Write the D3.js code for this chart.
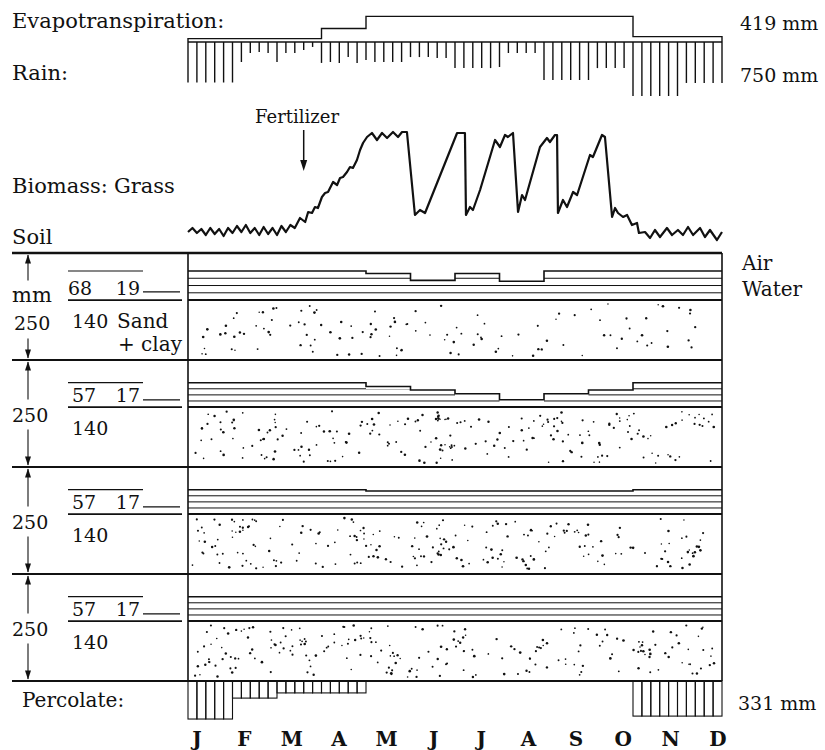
<!DOCTYPE html>
<html>
<head>
<meta charset="utf-8">
<script src="https://cdn.jsdelivr.net/npm/d3@7"></script>
<style>
  body { margin: 0; background: #fff; }
  text { font-family: "DejaVu Serif", "Liberation Serif", serif; fill: #111; }
</style>
</head>
<body>
<svg id="chart" width="825" height="750"></svg>
<script>
// ---- data -------------------------------------------------------------
// Month initials along the time axis
const months = ["J", "F", "M", "A", "M", "J", "J", "A", "S", "O", "N", "D"];

// Rain per 6-day period (mm), marks at day 0, 6, ... 360
const rain = [
  18.0, 18.0, 18.0, 18.0, 18.0, 18.0,
  8.9, 4.9, 4.4, 4.9, 8.9, 4.9, 4.9, 3.6, 2.2,
  9.3, 8.9, 9.3, 6.7, 9.3, 8.0,
  8.9, 8.9, 8.9, 8.9,
  6.7, 6.7, 6.7, 7.1, 7.1,
  11.6, 11.6, 11.6, 11.6, 11.6, 11.1,
  4.9, 4.9, 4.9, 4.9,
  16.9, 16.9, 16.9, 16.9, 16.9, 16.9,
  11.6, 11.6, 11.6, 11.6,
  24.0, 24.0, 24.0, 24.0, 24.0, 24.0,
  18.2, 18.2, 18.2, 18.2, 18.2
];
const rainTotal = 750;

// Evapotranspiration (mm per 6-day period), by month
const etMonthly = [1.5, 1.5, 1.5, 6.0, 11.4, 11.4, 11.4, 11.4, 11.4, 11.4, 2.4, 2.4];
const etTotal = 419;

// Percolation out of the profile (mm per 6-day period), 60 periods
const percolate = [
  16.9, 16.9, 16.9, 16.9, 16.9,
  7.6, 7.6, 7.6, 7.6, 7.6,
  5.3, 5.3, 5.3, 5.3, 5.3, 5.3, 5.3, 5.3, 5.3, 5.3,
  0, 0, 0, 0, 0, 0, 0, 0, 0, 0,
  0, 0, 0, 0, 0, 0, 0, 0, 0, 0,
  0, 0, 0, 0, 0, 0, 0, 0, 0, 0,
  15.6, 15.6, 15.6, 15.6, 15.6, 15.6, 15.6, 15.6, 15.6, 15.6
];
const percolateTotal = 331;

// Grass biomass (relative units) as [day, value]; cuts at the sharp drops
const biomass = [
  [0, 8], [3, 12], [6, 7], [9, 11], [12, 5], [15, 12], [18, 6], [21, 11], [24, 4],
  [27, 12], [30, 7], [33, 14], [36, 8], [39, 15], [42, 7], [45, 12], [48, 5],
  [51, 13], [54, 6], [57, 12], [60, 5], [63, 14], [66, 8], [69, 15],
  [72, 12], [75.5, 22], [79, 18], [81, 28], [83.6, 27], [85.6, 33], [87.6, 32],
  [90.3, 43], [92.4, 47], [94.4, 48], [97.8, 58], [100.5, 55], [102.5, 62],
  [104.5, 63], [107.2, 68], [109.2, 73], [111.2, 72], [113.9, 80], [116, 90],
  [118, 97], [120.7, 103], [124, 107], [127.4, 100], [130.8, 107], [134.2, 102],
  [138.2, 108], [141.6, 103], [144.3, 108], [147.6, 108],
  [153, 25], [156.4, 30], [159.8, 27], [181.4, 107], [186.7, 107],
  [187.4, 25], [190.1, 33], [192.1, 30], [196.9, 50], [207, 100], [210.3, 93],
  [213.7, 105], [215.7, 103], [219.1, 107],
  [222.5, 28], [225.2, 45], [227.2, 40], [237.3, 93], [242, 102], [244, 98],
  [247.4, 105], [248.8, 105],
  [249.4, 27], [252.8, 40], [255.5, 33], [259.6, 48], [262.3, 45], [271, 85],
  [273, 83], [279.1, 105], [281.1, 103],
  [285.9, 23], [287.9, 32], [289.9, 27], [293.3, 23], [296, 25], [299.3, 15],
  [302.7, 17], [304, 7], [308.1, 8], [311.5, 2], [314.8, 10], [318.2, 3],
  [322.9, 12], [326.3, 5], [330.3, 10], [333.7, 5], [337.1, 13], [340.5, 5],
  [345.2, 12], [348.5, 3], [351.9, 10], [356.6, 0], [360, 8]
];
const fertilizerDay = 78;

// Soil profile: four 250 mm layers (mm of solids, field capacity, wilting point)
const layerDepth = [250, 250, 250, 250];
const layerSolids = [140, 140, 140, 140];
const fieldCapacity = [68, 57, 57, 57];
const wiltingPoint = [19, 17, 17, 17];

// Soil water (mm) by month in each layer
const water1 = [68, 68, 68, 68, 62, 46, 62, 44, 68, 68, 68, 68];
const water2 = [57, 57, 57, 57, 48, 40, 31, 17, 31, 40, 57, 57];
const water3 = [57, 57, 57, 57, 54, 54, 54, 54, 54, 54, 57, 57];
const water4 = [57, 57, 57, 57, 57, 57, 57, 57, 57, 57, 57, 57];
const layerWater = [water1, water2, water3, water4];

// ---- layout & scales --------------------------------------------------
const svg = d3.select("#chart");
const ink = "#111";
const x = d3.scaleLinear().domain([0, 360]).range([188, 722]);        // day of year (30-day months)
const depthPx = d3.scaleLinear().domain([0, 20]).range([0, 45]);      // mm of water -> px
const monthX = d3.scalePoint().domain(d3.range(months.length)).range([197, 718]);
const rainBase = 42;
const soilTop = 253, soilBottom = 681;
const layerH = (soilBottom - soilTop) / layerDepth.length;
const bioY = d3.scaleLinear().domain([0, 100]).range([240, 140]);

const txt = (s, px, py, size, opts = {}) => {
  const t = svg.append("text").attr("x", px).attr("y", py)
    .attr("font-size", size).text(s);
  if (opts.anchor) t.attr("text-anchor", opts.anchor);
  if (opts.weight) t.attr("font-weight", opts.weight);
  return t;
};

// ---- evapotranspiration & rain ----------------------------------------
txt("Evapotranspiration:", 12, 28, 21);
txt("Rain:", 12, 80, 21);
txt(etTotal + " mm", 740, 30, 19);
txt(rainTotal + " mm", 740, 82, 19);

const etPts = [[0, 0]]
  .concat(etMonthly.map((v, m) => [m * 30, v]))
  .concat([[360, etMonthly[11]], [360, 0]]);
svg.append("path")
  .attr("d", d3.line().x(d => x(d[0])).y(d => rainBase - depthPx(d[1])).curve(d3.curveStepAfter)(etPts))
  .attr("fill", "none").attr("stroke", ink).attr("stroke-width", 1.4);

svg.append("line").attr("x1", x(0)).attr("x2", x(360))
  .attr("y1", rainBase).attr("y2", rainBase)
  .attr("stroke", ink).attr("stroke-width", 1.5);

svg.append("g").selectAll("line").data(rain).join("line")
  .attr("x1", (d, i) => x(i * 6)).attr("x2", (d, i) => x(i * 6))
  .attr("y1", rainBase).attr("y2", d => rainBase + depthPx(d))
  .attr("stroke", ink).attr("stroke-width", 1.4);

// ---- biomass ----------------------------------------------------------
txt("Biomass:", 12, 193, 21);
txt("Grass", 114, 193, 21);
txt("Fertilizer", 255, 123, 18);

svg.append("path")
  .attr("d", d3.line().x(d => x(d[0])).y(d => bioY(d[1]))(biomass))
  .attr("fill", "none").attr("stroke", ink).attr("stroke-width", 2.2)
  .attr("stroke-linejoin", "round");

const fx = x(fertilizerDay);
svg.append("line").attr("x1", fx).attr("x2", fx).attr("y1", 130).attr("y2", 162)
  .attr("stroke", ink).attr("stroke-width", 1.5);
svg.append("path").attr("d", `M${fx - 3.5},160 L${fx + 3.5},160 L${fx},171 Z`).attr("fill", ink);

// ---- soil profile -----------------------------------------------------
txt("Soil", 12, 244, 21);
const stipple = d3.randomLcg(0.4271);   // repeatable sand texture

const arrowHead = (cx, tipY, dir) =>
  svg.append("path")
    .attr("d", `M${cx},${tipY} L${cx - 3},${tipY - dir * 9} L${cx + 3},${tipY - dir * 9} Z`)
    .attr("fill", ink);

layerDepth.forEach((depth, k) => {
  const top = soilTop + k * layerH, bottom = top + layerH;
  const ly = d3.scaleLinear().domain([0, depth]).range([bottom, top]);
  const solid = layerSolids[k], fc = fieldCapacity[k], wp = wiltingPoint[k];
  const pts = layerWater[k].map((w, m) => [m * 30, w]).concat([[360, layerWater[k][11]]]);

  // sand stipple
  const sandTop = ly(solid);
  const nDots = k === 0 ? 120 : 220;
  const dots = d3.range(nDots).map(() => [
    x(0) + 4 + stipple() * (x(360) - x(0) - 8),
    sandTop + 4 + stipple() * (bottom - sandTop - 8),
    0.75 + stipple() * 0.6
  ]);
  svg.append("g").selectAll("circle").data(dots).join("circle")
    .attr("cx", d => d[0]).attr("cy", d => d[1]).attr("r", d => d[2]).attr("fill", ink);

  // horizontal hatching in the water-filled pore space
  const clipId = "water-clip-" + k;
  svg.append("clipPath").attr("id", clipId).append("path")
    .attr("d", d3.area().x(d => x(d[0])).y0(sandTop)
      .y1(d => ly(solid + d[1]) + 2.5).curve(d3.curveStepAfter)(pts));
  svg.append("g").attr("clip-path", `url(#${clipId})`)
    .selectAll("line").data([0.25, 0.5, 0.75]).join("line")
    .attr("x1", x(0)).attr("x2", x(360))
    .attr("y1", f => ly(solid + fc * f)).attr("y2", f => ly(solid + fc * f))
    .attr("stroke", ink).attr("stroke-width", 1);

  // water surface
  svg.append("path")
    .attr("d", d3.line().x(d => x(d[0])).y(d => ly(solid + d[1])).curve(d3.curveStepAfter)(pts))
    .attr("fill", "none").attr("stroke", ink).attr("stroke-width", 1.6);

  // top of the sand
  svg.append("line").attr("x1", x(0)).attr("x2", x(360)).attr("y1", sandTop).attr("y2", sandTop)
    .attr("stroke", ink).attr("stroke-width", 2);

  // legend values at left
  svg.append("line").attr("x1", 68).attr("x2", 143)
    .attr("y1", ly(solid + fc)).attr("y2", ly(solid + fc)).attr("stroke", ink).attr("stroke-width", 1.2);
  svg.append("line").attr("x1", 143).attr("x2", 180)
    .attr("y1", ly(solid + wp)).attr("y2", ly(solid + wp)).attr("stroke", ink).attr("stroke-width", 1.2);
  svg.append("line").attr("x1", 68).attr("x2", 182)
    .attr("y1", sandTop).attr("y2", sandTop).attr("stroke", ink).attr("stroke-width", 1.6);
  txt(fc, k === 0 ? 68 : 72, sandTop - 5, 19);
  txt(wp, 140, sandTop - 5, 19, { anchor: "end" });
  txt(solid, 72, sandTop + 28, 19);
  if (k === 0) {
    txt("Sand", 117, sandTop + 28, 20);
    txt("+ clay", 118, sandTop + 51, 20);
  }

  // depth dimension
  const mid = (top + bottom) / 2;
  let gapTop, gapBottom;
  if (k === 0) {
    txt("mm", 12, mid - 5, 21);
    txt(depth, 14, mid + 23, 19);
    gapTop = mid - 26; gapBottom = mid + 32;
  } else {
    txt(depth, 12, mid + 8, 19);
    gapTop = mid - 14; gapBottom = mid + 16;
  }
  svg.append("line").attr("x1", 28).attr("x2", 28).attr("y1", top + 2).attr("y2", gapTop)
    .attr("stroke", ink).attr("stroke-width", 1.1);
  svg.append("line").attr("x1", 28).attr("x2", 28).attr("y1", gapBottom).attr("y2", bottom - 2)
    .attr("stroke", ink).attr("stroke-width", 1.1);
  arrowHead(28, top + 1.5, -1);
  arrowHead(28, bottom - 1.5, 1);
});

txt("Air", 742, 270, 20);
txt("Water", 742, 296, 20);

// layer boundaries and frame
svg.append("g").selectAll("line").data(d3.range(layerDepth.length + 1)).join("line")
  .attr("x1", 12).attr("x2", x(360))
  .attr("y1", i => soilTop + i * layerH).attr("y2", i => soilTop + i * layerH)
  .attr("stroke", ink).attr("stroke-width", (d, i) => i === 0 ? 2.6 : 2.2);
svg.append("line").attr("x1", x(0)).attr("x2", x(0)).attr("y1", soilTop).attr("y2", soilBottom)
  .attr("stroke", ink).attr("stroke-width", 1.6);
svg.append("line").attr("x1", x(360)).attr("x2", x(360)).attr("y1", soilTop).attr("y2", soilBottom)
  .attr("stroke", ink).attr("stroke-width", 1.6);

// ---- percolation ------------------------------------------------------
txt("Percolate:", 22, 707, 20);
txt(percolateTotal + " mm", 738, 710, 19);
svg.append("g").selectAll("rect")
  .data(percolate.map((v, i) => ({ v, i })).filter(d => d.v > 0)).join("rect")
  .attr("x", d => x(d.i * 6)).attr("width", d => x(d.i * 6 + 6) - x(d.i * 6))
  .attr("y", soilBottom).attr("height", d => depthPx(d.v))
  .attr("fill", "none").attr("stroke", ink).attr("stroke-width", 1.1);

// ---- month axis -------------------------------------------------------
svg.append("g").selectAll("text").data(months).join("text")
  .attr("x", (d, i) => monthX(i)).attr("y", 746)
  .attr("text-anchor", "middle").attr("font-size", 20).attr("font-weight", "bold")
  .text(d => d);
</script>
</body>
</html>
